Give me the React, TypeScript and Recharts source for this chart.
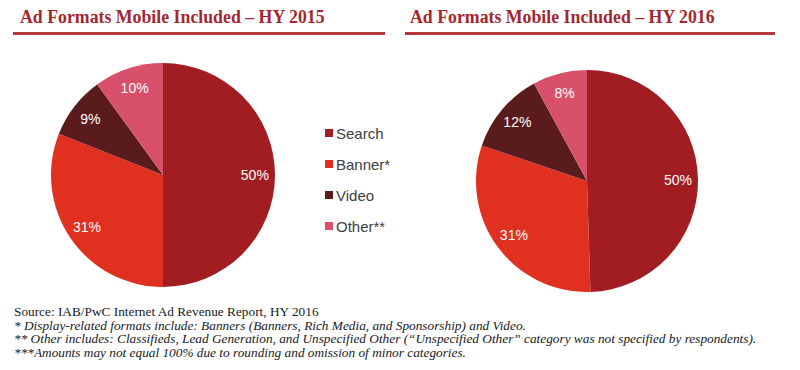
import React from 'react';
import { PieChart, Pie, Cell } from 'recharts';

const categories = ['Search', 'Banner*', 'Video', 'Other**'];
const values2015 = [50, 31, 9, 10];
const values2016 = [50, 31, 12, 8];
const titles = ['Ad Formats Mobile Included \u2013 HY 2015', 'Ad Formats Mobile Included \u2013 HY 2016'];
const footnotes = [
  'Source: IAB/PwC Internet Ad Revenue Report, HY 2016',
  '* Display-related formats include: Banners (Banners, Rich Media, and Sponsorship) and Video.',
  '** Other includes: Classifieds, Lead Generation, and Unspecified Other (\u201cUnspecified Other\u201d category was not specified by respondents).',
  '***Amounts may not equal 100% due to rounding and omission of minor categories.',
];
const colors = ['#a11d22', '#e0301f', '#5a1b1c', '#d9506b'];

const data2015 = categories.map((name, i) => ({ name, value: values2015[i] }));
const data2016 = categories.map((name, i) => ({ name, value: values2016[i] }));

const RAD = Math.PI / 180;
const renderLabel = (props: any) => {
  const { cx, cy, midAngle, outerRadius, value } = props;
  const r = outerRadius * 0.82;
  const x = cx + r * Math.cos(-midAngle * RAD);
  const y = cy + r * Math.sin(-midAngle * RAD);
  return (
    <text x={x} y={y} fill="#ffffff" textAnchor="middle" dominantBaseline="central"
      fontFamily="Liberation Sans, Arial, sans-serif" fontSize={14}>
      {`${value}%`}
    </text>
  );
};

const titleStyle: React.CSSProperties = {
  position: 'absolute',
  fontFamily: '"Liberation Serif", "DejaVu Serif", serif',
  fontWeight: 'bold',
  fontSize: 17.8,
  color: '#a3282d',
  whiteSpace: 'nowrap',
  lineHeight: '20px',
};

export default function App() {
  return (
    <div style={{ position: 'absolute', left: 0, top: 0, width: 800, height: 370, background: '#fff', overflow: 'hidden' }}>
      <PieChart width={800} height={370} margin={{ top: 0, right: 0, bottom: 0, left: 0 }}
        style={{ position: 'absolute', left: 0, top: 0 }}>
        <Pie data={data2015} dataKey="value" nameKey="name" cx={163} cy={175} outerRadius={112}
          startAngle={90} endAngle={-270} stroke="none" isAnimationActive={false}
          label={renderLabel} labelLine={false}>
          {data2015.map((d, i) => <Cell key={d.name} fill={colors[i]} />)}
        </Pie>
        <Pie data={data2016} dataKey="value" nameKey="name" cx={587} cy={181} outerRadius={111}
          startAngle={90} endAngle={-270} stroke="none" isAnimationActive={false}
          label={renderLabel} labelLine={false}>
          {data2016.map((d, i) => <Cell key={d.name} fill={colors[i]} />)}
        </Pie>
      </PieChart>
      <div style={{ ...titleStyle, left: 20, top: 7 }}>{titles[0]}</div>
      <div style={{ ...titleStyle, left: 410, top: 7 }}>{titles[1]}</div>
      <div style={{ position: 'absolute', left: 13, top: 32, width: 372, height: 2.5, background: '#b3393d' }} />
      <div style={{ position: 'absolute', left: 405, top: 32, width: 370, height: 2.5, background: '#b3393d' }} />
      {categories.map((c, i) => (
        <div key={c} style={{ position: 'absolute', left: 325, top: 124 + i * 31, height: 18, display: 'flex', alignItems: 'center',
          fontFamily: '"Liberation Sans", Arial, sans-serif', fontSize: 15, color: '#404040' }}>
          <span style={{ display: 'inline-block', width: 8, height: 8, background: colors[i], marginRight: 3 }} />
          {c}
        </div>
      ))}
      {footnotes.map((f, i) => (
        <div key={i} style={{ position: 'absolute', left: 14, top: 305 + i * 13.7, whiteSpace: 'nowrap',
          fontFamily: '"Liberation Serif", "DejaVu Serif", serif', fontStyle: i === 0 ? 'normal' : 'italic',
          fontSize: 13.3, lineHeight: '14px', color: '#1a1a1a' }}>{f}</div>
      ))}
    </div>
  );
}
